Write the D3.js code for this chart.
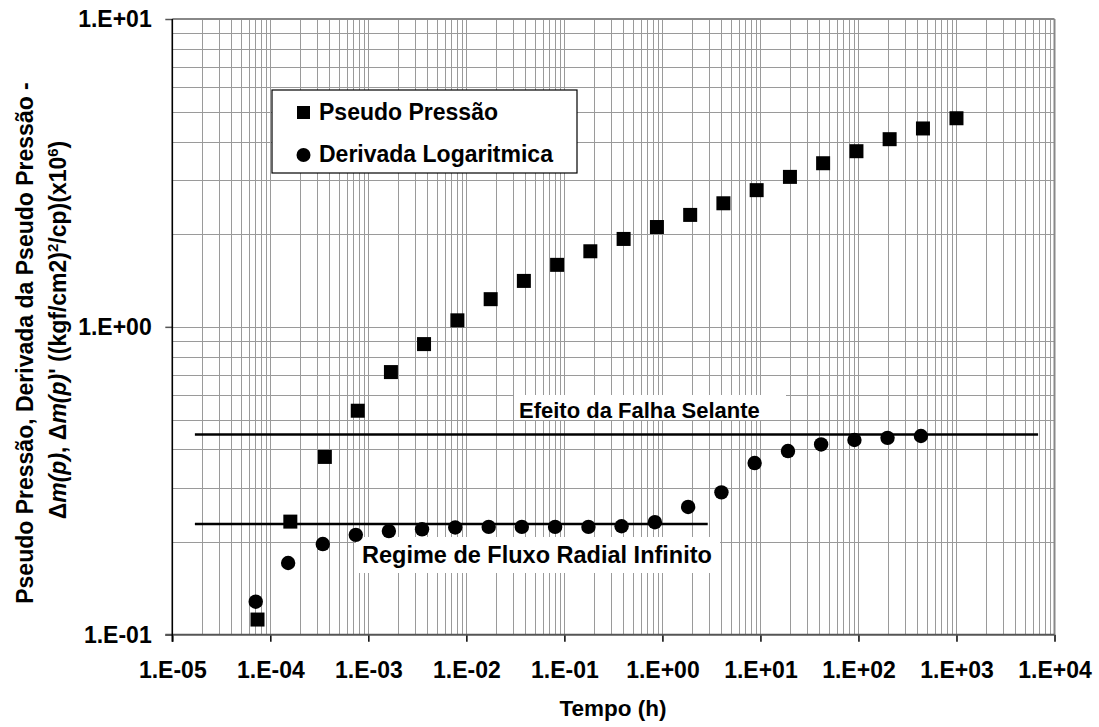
<!DOCTYPE html>
<html>
<head>
<meta charset="utf-8">
<script src="https://cdn.jsdelivr.net/npm/d3@7.9.0/dist/d3.min.js"></script>
<style>
  body { margin: 0; background: #fff; }
  svg text { font-family: Arial, "Liberation Sans", sans-serif; font-weight: bold; fill: #000; }
</style>
</head>
<body>
<svg id="chart" width="1099" height="727"></svg>
<script>
// Time values (h) for the pseudo pressure points
const pressureTimes = [7.4e-5, 1.6e-4, 3.6e-4, 7.8e-4, 1.7e-3, 3.7e-3, 8.1e-3, 0.0177, 0.0386, 0.0843, 0.184,
  0.402, 0.879, 1.92, 4.19, 9.15, 20.0, 43.6, 95.4, 208, 455, 1000];
const pressureValues = [0.112, 0.233, 0.378, 0.534, 0.713, 0.879, 1.05, 1.23, 1.41, 1.59, 1.76,
  1.93, 2.11, 2.31, 2.52, 2.78, 3.07, 3.40, 3.72, 4.07, 4.41, 4.76];

// Time values (h) for the log derivative points
const derivativeTimes = [7.1e-5, 1.52e-4, 3.43e-4, 7.45e-4, 1.62e-3, 3.53e-3, 7.7e-3, 0.0169, 0.0368, 0.0804, 0.176,
  0.383, 0.838, 1.83, 4.0, 8.73, 19.1, 41.6, 91.0, 198, 434];
const derivativeValues = [0.128, 0.171, 0.197, 0.211, 0.217, 0.220, 0.223, 0.224, 0.224, 0.224, 0.224,
  0.225, 0.232, 0.260, 0.290, 0.361, 0.395, 0.415, 0.429, 0.436, 0.442];

// Horizontal reference lines: [value, start time, end time]
const falhaLine = [0.447, 1.7e-5, 6800];
const radialLine = [0.2287, 1.7e-5, 2.9];

// Decade ticks
const xDecades = [-5, -4, -3, -2, -1, 0, 1, 2, 3, 4];
const yDecades = [-1, 0, 1];

const svg = d3.select('#chart');

// Plot area
const plotLeft = 172.3, plotRight = 1054.5, plotTop = 19, plotBottom = 634.7;

const x = d3.scaleLog().domain([1e-5, 1e4]).range([plotLeft, plotRight]);
const y = d3.scaleLog().domain([0.1, 10]).range([plotBottom, plotTop]);

// Format like Excel scientific: 1.E-05
const sci = (v) => {
  const e = Math.round(Math.log10(v));
  return `1.E${e < 0 ? '-' : '+'}${String(Math.abs(e)).padStart(2, '0')}`;
};

// Build minor + major grid values (1..9 per decade)
function gridValues(decades) {
  let vals = [];
  for (let i = 0; i < decades.length - 1; i++) {
    for (let k = 1; k <= 9; k++) vals.push(k * Math.pow(10, decades[i]));
  }
  return vals;
}

// Gridlines
const grid = svg.append('g').attr('shape-rendering', 'crispEdges');
grid.selectAll('.vgrid')
  .data(gridValues(xDecades).filter((d) => d > 1e-5))
  .join('line')
  .attr('x1', (d) => Math.round(x(d)) + 0.5)
  .attr('x2', (d) => Math.round(x(d)) + 0.5)
  .attr('y1', plotTop)
  .attr('y2', plotBottom)
  .attr('stroke', '#9a9a9a')
  .attr('stroke-width', 1);

grid.selectAll('.hgrid')
  .data(gridValues(yDecades).filter((d) => d > 0.1))
  .join('line')
  .attr('y1', (d) => Math.round(y(d)) + 0.5)
  .attr('y2', (d) => Math.round(y(d)) + 0.5)
  .attr('x1', plotLeft)
  .attr('x2', plotRight)
  .attr('stroke', '#9a9a9a')
  .attr('stroke-width', 1);

// Plot border (top/right gray)
svg.append('line').attr('x1', plotLeft).attr('x2', plotRight).attr('y1', plotTop).attr('y2', plotTop)
  .attr('stroke', '#888').attr('stroke-width', 2);
svg.append('line').attr('x1', plotRight).attr('x2', plotRight).attr('y1', plotTop).attr('y2', plotBottom)
  .attr('stroke', '#888').attr('stroke-width', 2);

// Axes
const xAxis = d3.axisBottom(x).tickValues(xDecades.map((e) => Math.pow(10, e)))
  .tickFormat(sci).tickSize(7).tickPadding(20);
const gx = svg.append('g').attr('transform', `translate(0,${plotBottom})`).call(xAxis);
gx.select('.domain').remove();
gx.selectAll('.tick line').attr('stroke', '#000').attr('stroke-width', 1.5);
gx.selectAll('.tick text').style('font-size', '23px').attr('fill', '#000');

const yAxis = d3.axisLeft(y).tickValues(yDecades.map((e) => Math.pow(10, e)))
  .tickFormat(sci).tickSize(7).tickPadding(13.6);
const gy = svg.append('g').attr('transform', `translate(${plotLeft},0)`).call(yAxis);
gy.select('.domain').remove();
gy.selectAll('.tick line').attr('stroke', '#555').attr('stroke-width', 1.5);
gy.selectAll('.tick text').style('font-size', '23px').attr('fill', '#000');

svg.append('line').attr('x1', plotLeft - 7).attr('x2', plotRight).attr('y1', plotBottom).attr('y2', plotBottom)
  .attr('stroke', '#555').attr('stroke-width', 2);
svg.append('line').attr('x1', plotLeft).attr('x2', plotLeft).attr('y1', plotTop).attr('y2', plotBottom + 7)
  .attr('stroke', '#000').attr('stroke-width', 1.6);

// Reference lines
[falhaLine, radialLine].forEach((l) => {
  svg.append('line')
    .attr('x1', x(l[1])).attr('x2', x(l[2]))
    .attr('y1', y(l[0])).attr('y2', y(l[0]))
    .attr('stroke', '#000').attr('stroke-width', 2.5);
});

// Annotation text boxes (white background)
function labelBox(text, size, bx, by, bw, bh, tx, ty) {
  svg.append('rect').attr('x', bx).attr('y', by).attr('width', bw).attr('height', bh).attr('fill', '#fff');
  svg.append('text').attr('x', tx).attr('y', ty).style('font-size', size).text(text);
}
labelBox('Efeito da Falha Selante', '22px', 514, 395, 272, 25, 519, 418);
labelBox('Regime de Fluxo Radial Infinito', '23.5px', 356, 537, 364, 36, 362, 563);

// Pseudo pressure squares
const pData = pressureTimes.map((t, i) => ({ t: t, v: pressureValues[i] }));
svg.append('g').selectAll('rect')
  .data(pData)
  .join('rect')
  .attr('x', (d) => x(d.t) - 7)
  .attr('y', (d) => y(d.v) - 7)
  .attr('width', 14)
  .attr('height', 14)
  .attr('fill', '#000');

// Derivative circles
const dData = derivativeTimes.map((t, i) => ({ t: t, v: derivativeValues[i] }));
svg.append('g').selectAll('circle')
  .data(dData)
  .join('circle')
  .attr('cx', (d) => x(d.t))
  .attr('cy', (d) => y(d.v))
  .attr('r', 7.2)
  .attr('fill', '#000');

// Legend
const legend = svg.append('g');
legend.append('rect').attr('x', 272).attr('y', 90).attr('width', 305).attr('height', 83)
  .attr('fill', '#fff').attr('stroke', '#000').attr('stroke-width', 1.2);
legend.append('rect').attr('x', 297).attr('y', 106).attr('width', 13).attr('height', 13).attr('fill', '#000');
legend.append('text').attr('x', 319).attr('y', 120).style('font-size', '23px').text('Pseudo Pressão');
legend.append('circle').attr('cx', 303.5).attr('cy', 155).attr('r', 7).attr('fill', '#000');
legend.append('text').attr('x', 319).attr('y', 162).style('font-size', '23px').text('Derivada Logaritmica');

// X axis title
svg.append('text').attr('x', 613).attr('y', 716).attr('text-anchor', 'middle')
  .style('font-size', '22.5px').text('Tempo (h)');

// Y axis title (two lines, rotated)
svg.append('text').attr('transform', 'translate(33,343) rotate(-90)')
  .attr('text-anchor', 'middle').style('font-size', '23px')
  .text('Pseudo Pressão, Derivada da Pseudo Pressão -');

const yTitle2 = svg.append('text').attr('transform', 'translate(66,330) rotate(-90)')
  .attr('text-anchor', 'middle').style('font-size', '23px');
yTitle2.append('tspan').text('Δ');
yTitle2.append('tspan').style('font-style', 'italic').text('m(p)');
yTitle2.append('tspan').text(', Δ');
yTitle2.append('tspan').style('font-style', 'italic').text('m(p)');
yTitle2.append('tspan').text('\' ((kgf/cm2)');
yTitle2.append('tspan').attr('dy', -8).style('font-size', '15px').text('2');
yTitle2.append('tspan').attr('dy', 8).text('/cp)(x10');
yTitle2.append('tspan').attr('dy', -8).style('font-size', '15px').text('6');
yTitle2.append('tspan').attr('dy', 8).text(')');
</script>
</body>
</html>
